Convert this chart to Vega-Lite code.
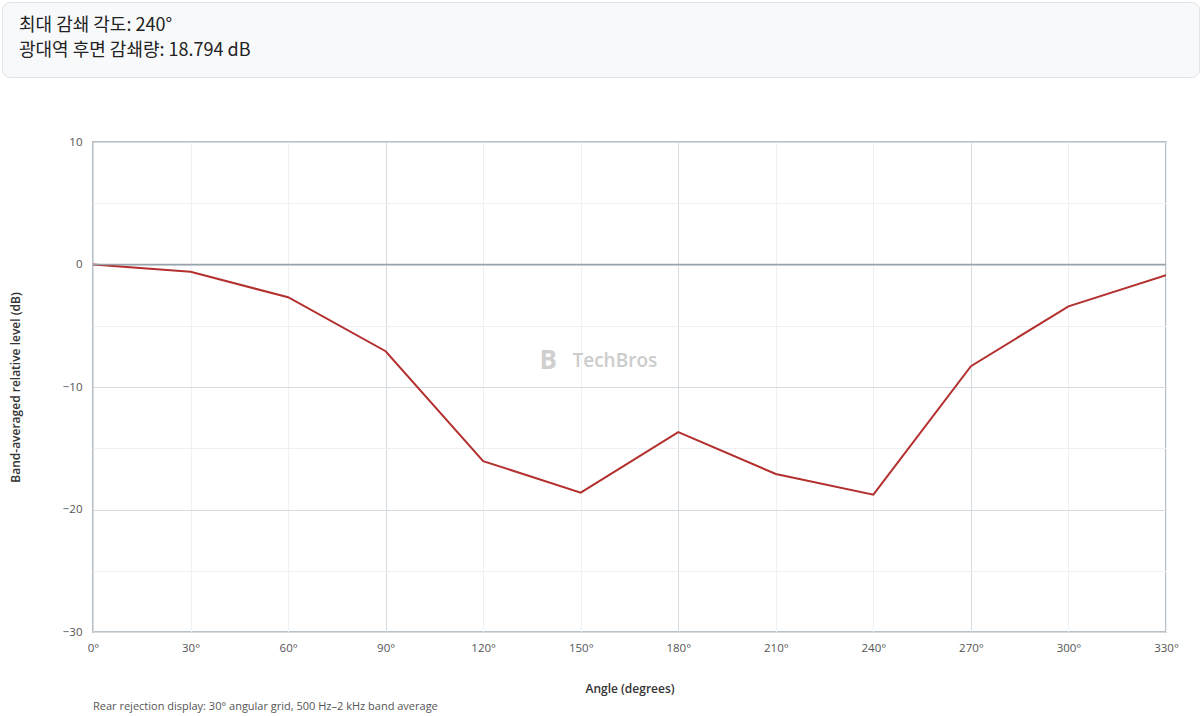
{
  "$schema": "https://vega.github.io/schema/vega-lite/v6.json",
  "description": "Rear rejection: band-averaged relative level by angle",
  "padding": {"left": 1, "top": 1, "right": 1, "bottom": 2},
  "spacing": 57,
  "config": {
    "font": "Open Sans",
    "axis": {"labelFont": "Open Sans", "titleFont": "Open Sans"}
  },
  "vconcat": [
    {
      "width": 1197,
      "height": 75,
      "view": {"fill": "#f8f9fb", "stroke": "#e1e4e8", "strokeWidth": 1, "cornerRadius": 8},
      "data": {
        "values": [
          {"line": 1, "text": "최대 감쇄 각도: 240°"},
          {"line": 2, "text": "광대역 후면 감쇄량: 18.794 dB"}
        ]
      },
      "mark": {"type": "text", "align": "left", "baseline": "middle", "dx": 17, "dy": -1, "font": "Noto Sans CJK KR", "fontSize": 18, "color": "#222222"},
      "encoding": {
        "x": {"datum": 0, "type": "quantitative", "scale": {"domain": [0, 1]}, "axis": null},
        "y": {"field": "line", "type": "ordinal", "scale": {"type": "point", "padding": 1}, "axis": null},
        "text": {"field": "text"}
      }
    },
    {
      "spacing": 0,
      "hconcat": [
        {
          "width": 6,
          "height": 490,
          "view": {"stroke": null},
          "data": {"values": [{}]},
          "mark": {"type": "point", "opacity": 0},
          "encoding": {}
        },
        {
          "width": 1073,
          "height": 490,
          "view": {"stroke": "#b8c0c7", "strokeWidth": 2},
          "title": {
            "text": "Rear rejection display: 30° angular grid, 500 Hz–2 kHz band average",
            "orient": "bottom",
            "anchor": "start",
            "frame": "group",
            "fontSize": 11,
            "fontWeight": "normal",
            "color": "#555555",
            "offset": 6
          },
          "layer": [
            {
              "data": {
                "values": [
                  {"angle": 0, "level": 0},
                  {"angle": 30, "level": -0.6},
                  {"angle": 60, "level": -2.67},
                  {"angle": 90, "level": -7.08},
                  {"angle": 120, "level": -16.05},
                  {"angle": 150, "level": -18.63},
                  {"angle": 180, "level": -13.69},
                  {"angle": 210, "level": -17.1},
                  {"angle": 240, "level": -18.794},
                  {"angle": 270, "level": -8.3},
                  {"angle": 300, "level": -3.42},
                  {"angle": 330, "level": -0.88}
                ]
              },
              "mark": {"type": "line", "color": "#b3302f", "strokeWidth": 2, "clip": true},
              "encoding": {
                "x": {
                  "field": "angle",
                  "type": "quantitative",
                  "scale": {"domain": [0, 330], "nice": false, "zero": false},
                  "axis": {
                    "values": [0, 30, 60, 90, 120, 150, 180, 210, 240, 270, 300, 330],
                    "labelExpr": "datum.value + '°'",
                    "labelFlush": false,
                    "domain": false,
                    "ticks": false,
                    "labelPadding": 10,
                    "labelFontSize": 11.5,
                    "labelColor": "#555555",
                    "grid": true,
                    "gridColor": {"condition": {"test": "datum.value % 90 === 0", "value": "#d6dbe0"}, "value": "#eef1f4"},
                    "gridWidth": 1,
                    "title": "Angle (degrees)",
                    "titleFontSize": 12,
                    "titleFontWeight": 600,
                    "titleColor": "#333333",
                    "titlePadding": 30
                  }
                },
                "y": {
                  "field": "level",
                  "type": "quantitative",
                  "scale": {"domain": [-30, 10], "nice": false, "zero": false},
                  "axis": {
                    "values": [-30, -25, -20, -15, -10, -5, 0, 5, 10],
                    "labelExpr": "datum.value % 10 === 0 ? datum.label : ''",
                    "labelFlush": false,
                    "domain": false,
                    "ticks": false,
                    "labelPadding": 11,
                    "labelFontSize": 11.5,
                    "labelColor": "#555555",
                    "grid": true,
                    "gridColor": {"condition": {"test": "datum.value % 10 === 0", "value": "#d6dbe0"}, "value": "#eef1f4"},
                    "gridWidth": 1,
                    "title": "Band-averaged relative level (dB)",
                    "titleFontSize": 12,
                    "titleFontWeight": 600,
                    "titleColor": "#333333",
                    "titlePadding": 40
                  }
                }
              }
            },
            {
              "data": {"values": [{"level": 0}]},
              "mark": {"type": "rule", "color": "#98a2ab", "strokeWidth": 1.5},
              "encoding": {"y": {"field": "level", "type": "quantitative"}}
            },
            {
              "data": {"values": [{"logo": "B"}]},
              "mark": {"type": "text", "fontSize": 26, "fontWeight": "bold", "color": "#cfcfcf", "baseline": "middle", "align": "center"},
              "encoding": {"x": {"datum": 140}, "y": {"datum": -7.9}, "text": {"field": "logo"}}
            },
            {
              "data": {"values": [{"brand": "TechBros"}]},
              "mark": {"type": "text", "fontSize": 19, "fontWeight": 600, "color": "#cccccc", "baseline": "middle", "align": "center"},
              "encoding": {"x": {"datum": 160.5}, "y": {"datum": -7.9}, "text": {"field": "brand"}}
            }
          ]
        }
      ]
    }
  ]
}
